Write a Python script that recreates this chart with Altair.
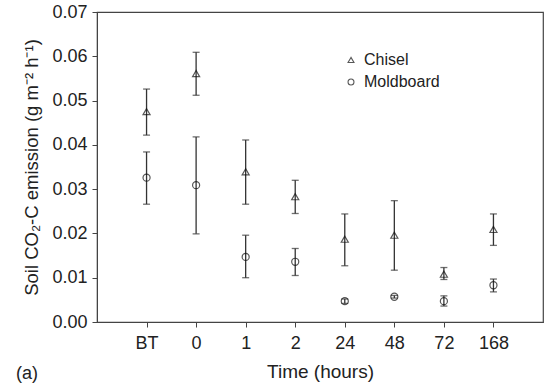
import altair as alt
import pandas as pd

# Sampling times after tillage (BT = before tillage)
times = ["BT", "0", "1", "2", "24", "48", "72", "168"]

# Soil CO2-C emission, g m-2 h-1: means with lower / upper error limits
chisel_mean = [0.0475, 0.0561, 0.0339, 0.0283, 0.0187, 0.0196, 0.0108, 0.0209]
chisel_lo = [0.0422, 0.0512, 0.0266, 0.0245, 0.0127, 0.0117, 0.0096, 0.0173]
chisel_hi = [0.0526, 0.0609, 0.0411, 0.0320, 0.0244, 0.0274, 0.0123, 0.0244]

mold_mean = [0.0326, 0.0309, 0.0147, 0.0136, 0.0047, 0.0057, 0.0047, 0.0083]
mold_lo = [0.0266, 0.0199, 0.0100, 0.0105, 0.0042, 0.0054, 0.0036, 0.0068]
mold_hi = [0.0384, 0.0418, 0.0196, 0.0166, 0.0052, 0.0060, 0.0059, 0.0097]

rows = []
for name, m, lo, hi in [("Chisel", chisel_mean, chisel_lo, chisel_hi),
                        ("Moldboard", mold_mean, mold_lo, mold_hi)]:
    for t, a, b, c in zip(times, m, lo, hi):
        rows.append({"time": t, "tillage": name, "mean": a, "lo": b, "hi": c})
df = pd.DataFrame(rows)

FONT = "Liberation Sans"
INK = "#222222"
LINE = "#444444"

x_enc = alt.X("time:O", sort=times,
              scale=alt.Scale(type="point", padding=1),
              axis=alt.Axis(title="Time (hours)", labelAngle=0, labelFontSize=18,
                            titleFontSize=19, titleFontWeight="normal",
                            labelPadding=7, tickSize=5, titlePadding=10,
                            domainColor=LINE, tickColor=LINE,
                            labelColor=INK, titleColor=INK, labelFont=FONT,
                            titleFont=FONT))
y_scale = alt.Scale(domain=[0, 0.07], nice=False, zero=True)
y_axis = alt.Axis(title="Soil CO₂-C emission (g m⁻² h⁻¹)",
                  values=[0, 0.01, 0.02, 0.03, 0.04, 0.05, 0.06, 0.07],
                  format=".2f", labelFontSize=18, titleFontSize=18.5,
                  titleFontWeight="normal", tickSize=5, labelPadding=5,
                  titlePadding=10, grid=False, domainColor=LINE, tickColor=LINE,
                  labelColor=INK, titleColor=INK, labelFont=FONT, titleFont=FONT)

base = alt.Chart(df)

bars = base.mark_rule(color="#333333", strokeWidth=1.3).encode(
    x=x_enc,
    y=alt.Y("lo:Q", scale=y_scale, axis=y_axis),
    y2="hi:Q",
)
caps_lo = base.mark_tick(color="#333333", orient="horizontal", size=7,
                         thickness=1.3).encode(x=x_enc, y=alt.Y("lo:Q", scale=y_scale))
caps_hi = base.mark_tick(color="#333333", orient="horizontal", size=7,
                         thickness=1.3).encode(x=x_enc, y=alt.Y("hi:Q", scale=y_scale))

points = base.mark_point(filled=False, color="#111111", size=50,
                         strokeWidth=1.2).encode(
    x=x_enc,
    y=alt.Y("mean:Q", scale=y_scale),
    shape=alt.Shape("tillage:N",
                    scale=alt.Scale(domain=["Chisel", "Moldboard"],
                                    range=["triangle-up", "circle"]),
                    legend=alt.Legend(title=None, orient="none", legendX=246,
                                      legendY=40, labelFontSize=16,
                                      labelFont=FONT, labelColor=INK,
                                      symbolSize=35, symbolStrokeColor="#111111",
                                      symbolStrokeWidth=1.1, symbolFillColor="transparent",
                                      rowPadding=6, labelOffset=5)),
)

panel = alt.Chart(pd.DataFrame({"t": ["(a)"]})).mark_text(
    font=FONT, fontSize=18, color=INK, align="left", baseline="middle"
).encode(x=alt.value(-81), y=alt.value(362), text="t:N")

chart = alt.layer(bars, caps_lo, caps_hi, points, panel).properties(
    width=446, height=310,
    autosize=alt.AutoSizeParams(type="none"),
    padding={"left": 97, "top": 12, "right": 6, "bottom": 65},
    background="white",
).configure_view(stroke=LINE, strokeWidth=1.2)

chart.save("out.html", embed_options={"renderer": "svg", "actions": False})
